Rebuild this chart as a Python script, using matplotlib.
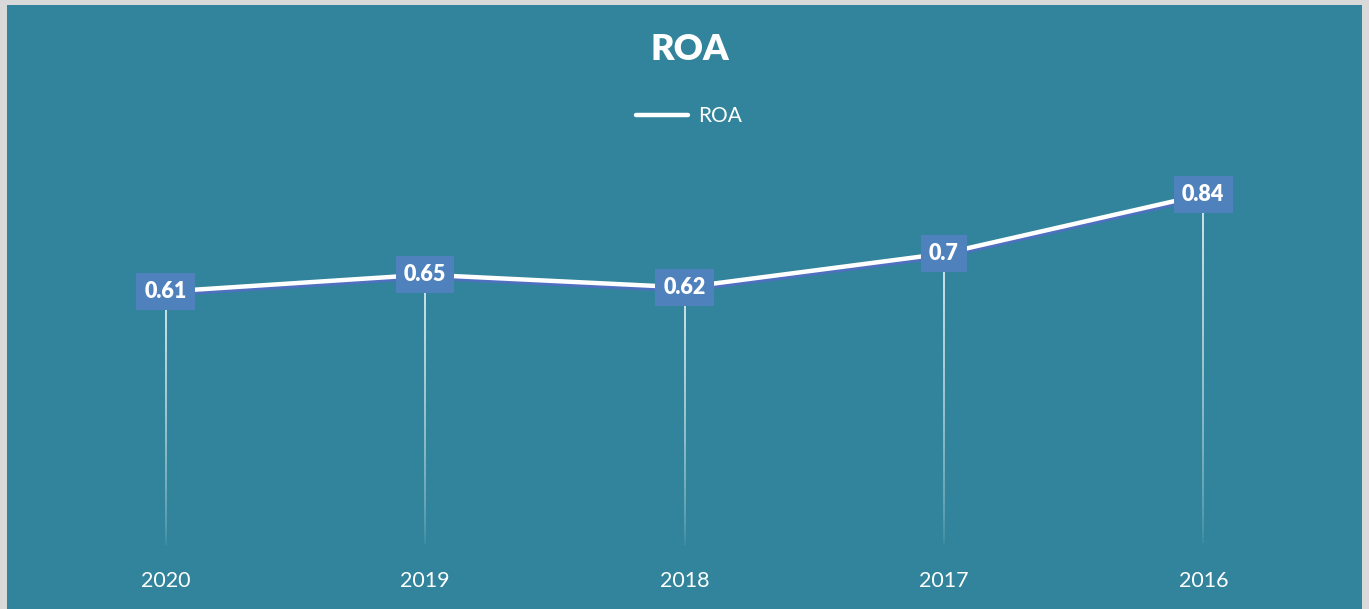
import matplotlib
matplotlib.use("Agg")
import matplotlib.pyplot as plt
import matplotlib.patheffects as pe
from matplotlib.collections import LineCollection
import numpy as np

years = ["2020", "2019", "2018", "2017", "2016"]
roa = [0.61, 0.65, 0.62, 0.7, 0.84]
labels = ["0.61", "0.65", "0.62", "0.7", "0.84"]

W, H = 1369, 609
BG = "#31849B"
BOX = "#4F81BD"
FONT = ["Lato", "DejaVu Sans"]

fig = plt.figure(figsize=(W / 100, H / 100), dpi=100)
fig.patch.set_facecolor("#D9D9D9")
bg = fig.add_axes([7 / W, 0, (1362 - 7) / W, (H - 5) / H], zorder=-1)
bg.set_facecolor(BG)
bg.set_xticks([]); bg.set_yticks([])
for s in bg.spines.values():
    s.set_visible(False)

ax = fig.add_axes([36 / W, (H - 549) / H, (1333 - 36) / W, (549 - 127) / H])
ax.set_facecolor("none")
ax.set_xlim(-0.5, len(years) - 0.5)
ax.set_ylim(0, 1)
for s in ax.spines.values():
    s.set_visible(False)
ax.set_yticks([])
x = np.arange(len(years))
ax.set_xticks(x)
ax.set_xticklabels(years, color="white", fontsize=15.5, family=FONT)
ax.tick_params(axis="x", length=0, pad=16)

# fading drop lines
n = 60
for xi, v in zip(x, roa):
    ys = np.linspace(v, 0, n + 1)
    segs = [[(xi, ys[i]), (xi, ys[i + 1])] for i in range(n)]
    alphas = np.clip(np.linspace(1.0, 0.0, n) ** 0.6, 0, 1)
    cols = [(1, 1, 1, a) for a in alphas]
    ax.add_collection(LineCollection(segs, colors=cols, linewidths=1.1, zorder=1))

line, = ax.plot(x, roa, color="white", lw=3.2, solid_capstyle="round", zorder=3,
                label="ROA",
                path_effects=[pe.SimpleLineShadow(offset=(0, -2), shadow_color="#4F6FBF",
                                                  alpha=1.0), pe.Normal()])

for xi, v, t in zip(x, roa, labels):
    ax.text(xi, v, t, ha="center", va="center", color="white", fontsize=15.5,
            fontweight="heavy", family=FONT, zorder=5,
            bbox=dict(boxstyle="square,pad=0.38", facecolor=BOX, edgecolor="none"))

fig.text(690 / W, 1 - 50 / H, "ROA", ha="center", va="center", color="white",
         fontsize=26, fontweight="heavy", family=FONT)

leg = fig.legend(handles=[line], labels=["ROA"], loc="center",
                 bbox_to_anchor=(689 / W, 1 - 116 / H), frameon=False,
                 handlelength=2.5, handletextpad=0.45,
                 prop=dict(family=FONT, size=15))
for t in leg.get_texts():
    t.set_color("white")
for h in leg.legend_handles:
    h.set_path_effects([])

fig.savefig("out.png", dpi=100, facecolor=fig.get_facecolor())
